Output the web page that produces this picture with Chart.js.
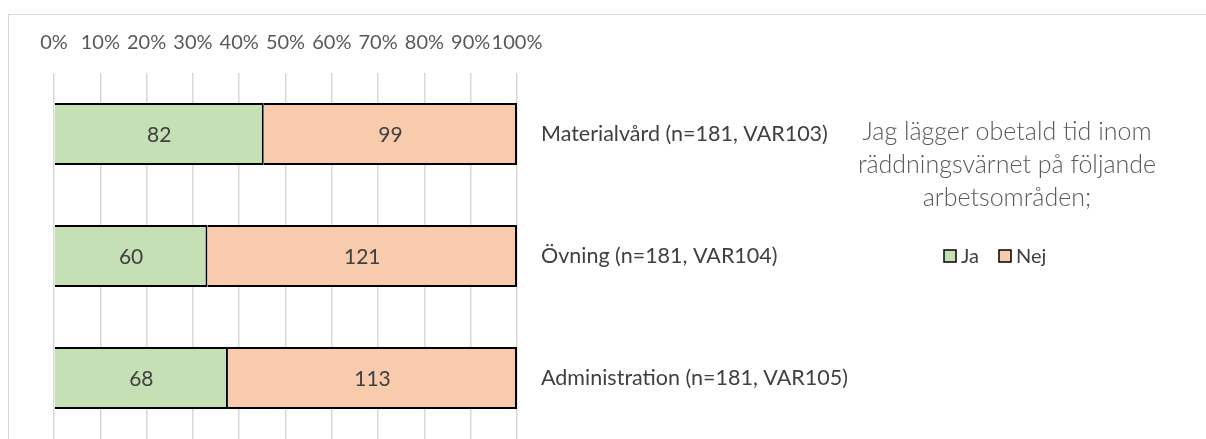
<!DOCTYPE html>
<html>
<head>
<meta charset="utf-8">
<script src="https://cdn.jsdelivr.net/npm/chart.js@4.4.1/dist/chart.umd.min.js"></script>
<style>
  html, body { margin: 0; padding: 0; background: #fff; }
  #wrap { width: 1206px; height: 439px; }
</style>
</head>
<body>
<div id="wrap"><canvas id="surveyChart"></canvas></div>
<script>
const categories = ['Materialvård (n=181, VAR103)', 'Övning (n=181, VAR104)', 'Administration (n=181, VAR105)'];
const jaCounts = [82, 60, 68];
const nejCounts = [99, 121, 113];
const seriesNames = ['Ja', 'Nej'];
const seriesColors = ['#C5E0B4', '#F8CBAD'];
const titleLines = ['Jag lägger obetald tid inom', 'räddningsvärnet på följande', 'arbetsområden;'];

const FONT = 'Lato, Carlito, "Open Sans", sans-serif';

// stacked 100% bars: share of each answer per row
const totals = jaCounts.map((v, i) => v + nejCounts[i]);
const toPct = arr => arr.map((v, i) => v / totals[i] * 100);
const counts = [jaCounts, nejCounts];

// outer frame of the chart object
const framePlugin = {
  id: 'frame',
  beforeDraw(chart) {
    const c = chart.ctx;
    c.save();
    c.strokeStyle = '#D9D9D9';
    c.lineWidth = 1;
    c.strokeRect(8.5, 14.5, 1400, 600);
    c.restore();
  }
};

// count labels in the middle of each segment
const valueLabels = {
  id: 'valueLabels',
  afterDatasetsDraw(chart) {
    const c = chart.ctx;
    c.save();
    c.font = '21px ' + FONT;
    c.fillStyle = '#404040';
    c.textAlign = 'center';
    c.textBaseline = 'middle';
    chart.data.datasets.forEach((ds, di) => {
      chart.getDatasetMeta(di).data.forEach((bar, i) => {
        const p = bar.getCenterPoint();
        c.fillText(counts[di][i], p.x, p.y + 1);
      });
    });
    c.restore();
  }
};

// title + legend block on the right
const sideBlock = {
  id: 'sideBlock',
  afterDraw(chart) {
    const c = chart.ctx;
    c.save();
    c.font = '300 25px ' + FONT;
    c.fillStyle = '#595959';
    c.textAlign = 'center';
    c.textBaseline = 'middle';
    titleLines.forEach((t, i) => c.fillText(t, 1007, 132 + i * 33));

    c.font = '20px ' + FONT;
    c.textAlign = 'left';
    let x = 944;
    seriesNames.forEach((name, i) => {
      c.fillStyle = seriesColors[i];
      c.fillRect(x, 250, 12, 12);
      c.strokeStyle = '#000';
      c.lineWidth = 1.5;
      c.strokeRect(x, 250, 12, 12);
      c.fillStyle = '#404040';
      c.fillText(name, x + 17, 257);
      x += 17 + c.measureText(name).width + 20;
    });
    c.restore();
  }
};

new Chart(document.getElementById('surveyChart'), {
  type: 'bar',
  data: {
    labels: categories,
    datasets: seriesNames.map((name, i) => ({
      label: name,
      data: toPct(counts[i]),
      backgroundColor: seriesColors[i],
      borderColor: '#000000',
      borderWidth: 2,
      barPercentage: 0.51,
      categoryPercentage: 1
    }))
  },
  options: {
    indexAxis: 'y',
    responsive: true,
    maintainAspectRatio: false,
    animation: false,
    layout: { padding: { left: 54, right: 0, top: 0, bottom: 0 } },
    plugins: {
      legend: { display: false },
      tooltip: { enabled: false }
    },
    scales: {
      x: {
        position: 'top',
        stacked: true,
        min: 0,
        max: 100,
        afterFit(scale) { scale.height = 73; },
        grid: { color: '#D9D9D9', lineWidth: 1.5, drawTicks: false },
        border: { display: false },
        ticks: {
          stepSize: 10,
          autoSkip: false,
          maxRotation: 0,
          padding: 18,
          color: '#595959',
          font: { family: FONT, size: 20 },
          callback: v => v + '%'
        }
      },
      y: {
        position: 'right',
        stacked: true,
        afterFit(scale) {
          scale.width = 1206 - 517;
          // labels sit beside the bars, no room needed above/below
          scale.paddingTop = 0;
          scale.paddingBottom = 0;
        },
        grid: { display: false, drawTicks: false },
        border: { display: false },
        ticks: {
          padding: 24,
          color: '#404040',
          font: { family: FONT, size: 21.5 }
        }
      }
    }
  },
  plugins: [framePlugin, valueLabels, sideBlock]
});
</script>
</body>
</html>
